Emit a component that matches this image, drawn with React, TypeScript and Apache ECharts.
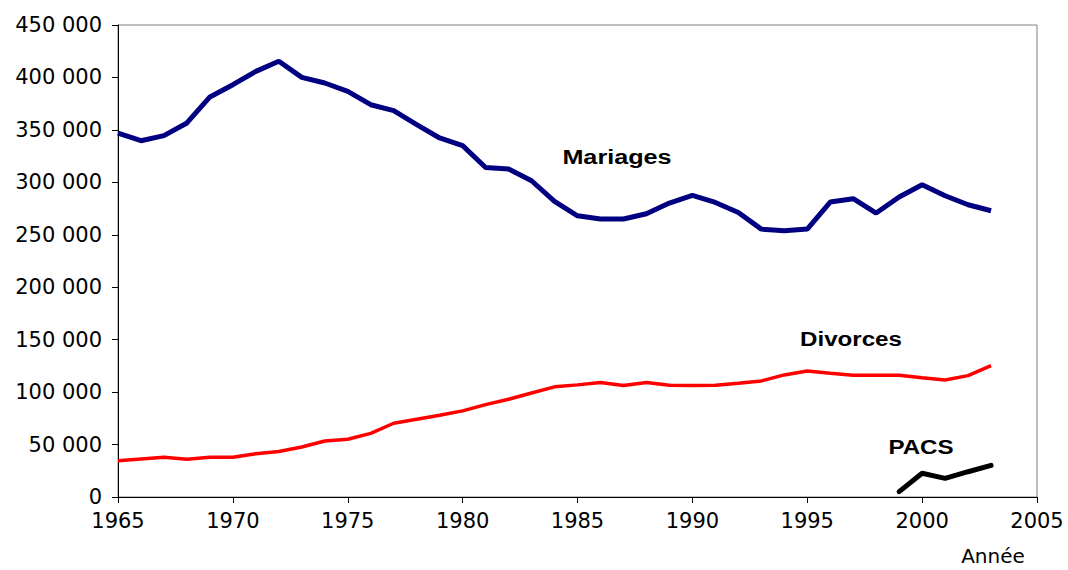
import React, { useEffect, useRef } from "react";
import * as echarts from "echarts";

const years = [
  1965, 1966, 1967, 1968, 1969, 1970, 1971, 1972, 1973, 1974,
  1975, 1976, 1977, 1978, 1979, 1980, 1981, 1982, 1983, 1984,
  1985, 1986, 1987, 1988, 1989, 1990, 1991, 1992, 1993, 1994,
  1995, 1996, 1997, 1998, 1999, 2000, 2001, 2002, 2003,
];

const mariages = [
  347000, 339700, 344500, 356600, 381400, 393100, 405800, 415400, 400100, 394700,
  386800, 374000, 368300, 355000, 342300, 335000, 314200, 312700, 301500, 281800,
  268100, 265000, 265000, 270000, 280200, 287500, 280800, 271300, 255400, 253800,
  255400, 281200, 284400, 270700, 286000, 297700, 287200, 278600, 272900,
];

const divorces = [
  34600, 36300, 37900, 36000, 37900, 37900, 41300, 43300, 47700, 53400,
  55000, 60700, 70300, 74100, 77900, 82100, 88100, 93200, 99200, 105000,
  106900, 109100, 106200, 109100, 106500, 106200, 106500, 108500, 110700, 116400,
  120200, 118000, 116100, 116100, 116100, 113800, 111600, 115700, 125300,
];

const pacsYears = [1999, 2000, 2001, 2002, 2003];
const pacs = [5100, 22600, 17800, 24100, 30200];

const seriesLabels = ["Mariages", "Divorces", "PACS"];
const xAxisName = "Année";

function pairs(xs: number[], ys: number[]) {
  return xs.map((x, i) => [x, ys[i]]);
}

function fmtThousands(v: number) {
  return String(v).replace(/\B(?=(\d{3})+(?!\d))/g, " ");
}

export default function App() {
  const ref = useRef<HTMLDivElement | null>(null);

  useEffect(() => {
    if (!ref.current) return;
    const chart = echarts.init(ref.current, undefined, { renderer: "svg" });
    const tickFont = {
      fontFamily: "DejaVu Sans",
      fontSize: 21,
      color: "#000",
    };
    const labelStyle = (text: string) => ({
      text,
      fill: "#000",
      font: "bold 21px 'Liberation Sans', Arial, sans-serif",
      textAlign: "center",
      textVerticalAlign: "middle",
    });
    chart.setOption({
      animation: false,
      backgroundColor: "#fff",
      grid: {
        left: 118,
        right: 31,
        top: 25,
        bottom: 73,
        show: true,
        borderColor: "#808080",
        borderWidth: 1,
        backgroundColor: "transparent",
      },
      xAxis: {
        type: "value",
        min: 1965,
        max: 2005,
        interval: 5,
        axisLine: { show: true, lineStyle: { color: "#000", width: 1 } },
        axisTick: { show: true, length: 6, lineStyle: { color: "#000" } },
        splitLine: { show: false },
        axisLabel: {
          ...tickFont,
          margin: 13,
          formatter: (v: number) => String(v),
        },
      },
      yAxis: {
        type: "value",
        min: 0,
        max: 450000,
        interval: 50000,
        axisLine: { show: true, lineStyle: { color: "#000", width: 1 } },
        axisTick: { show: true, length: 6, lineStyle: { color: "#000" } },
        splitLine: { show: false },
        axisLabel: {
          ...tickFont,
          margin: 16,
          formatter: (v: number) => fmtThousands(v),
        },
      },
      series: [
        {
          name: seriesLabels[0],
          type: "line",
          data: pairs(years, mariages),
          showSymbol: false,
          symbol: "none",
          lineStyle: { color: "#000080", width: 5 },
          z: 3,
        },
        {
          name: seriesLabels[1],
          type: "line",
          data: pairs(years, divorces),
          showSymbol: false,
          symbol: "none",
          lineStyle: { color: "#ff0000", width: 3.5 },
          z: 2,
        },
        {
          name: seriesLabels[2],
          type: "line",
          data: pairs(pacsYears, pacs),
          showSymbol: false,
          symbol: "none",
          lineStyle: { color: "#000", width: 5, cap: "round" },
          z: 4,
        },
      ],
      graphic: [
        {
          type: "text",
          x: 617,
          y: 157,
          scaleX: 1.2,
          style: labelStyle(seriesLabels[0]),
        },
        {
          type: "text",
          x: 851,
          y: 339,
          scaleX: 1.15,
          style: labelStyle(seriesLabels[1]),
        },
        {
          type: "text",
          x: 921,
          y: 447,
          scaleX: 1.15,
          style: labelStyle(seriesLabels[2]),
        },
        {
          type: "text",
          x: 993,
          y: 556,
          style: {
            text: xAxisName,
            fill: "#000",
            font: "20px 'DejaVu Sans', sans-serif",
            textAlign: "center",
            textVerticalAlign: "middle",
          },
        },
      ],
    });
    return () => chart.dispose();
  }, []);

  return (
    <div
      ref={ref}
      style={{
        position: "absolute",
        left: 0,
        top: 0,
        width: 1068,
        height: 570,
      }}
    />
  );
}
